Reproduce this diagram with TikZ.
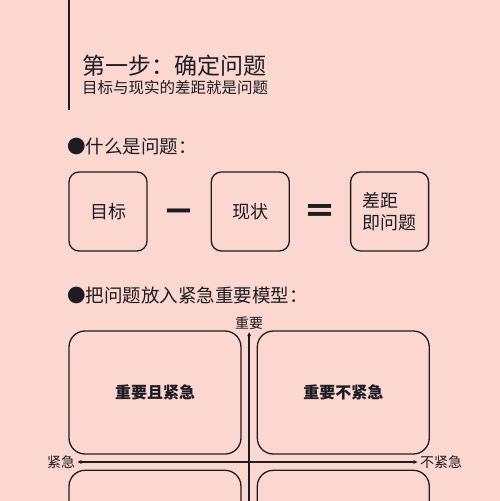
\documentclass[tikz,border=0pt]{standalone}
\usepackage{fontspec}
\setmainfont{Noto Sans CJK SC}
\usetikzlibrary{arrows.meta, positioning, calc}
\definecolor{bgpink}{RGB}{251, 215, 208}
\definecolor{inkdark}{RGB}{28, 28, 34}
\tikzstyle{eqbox}     = [rectangle, rounded corners=10pt, minimum width=78pt, minimum height=79pt,
                         text centered, draw=inkdark, line width=1.3pt, font=\fontsize{18}{22}\selectfont]
\tikzstyle{quad}      = [rectangle, rounded corners=16pt, minimum width=172pt, minimum height=123pt,
                         text centered, draw=inkdark, line width=1.3pt, font=\fontsize{16}{20}\selectfont\bfseries]
\tikzstyle{heading}   = [anchor=west, inner sep=0pt, text=inkdark]
\tikzstyle{opsign}    = [font=\fontsize{33}{33}\selectfont\bfseries, text=inkdark]
\tikzstyle{axislabel} = [font=\fontsize{14}{16}\selectfont, text=inkdark, inner sep=2.5pt]
\tikzstyle{axisline}  = [line width=1.5pt, draw=inkdark]

\begin{document}
\begin{tikzpicture}[x=1pt, y=-1pt, every node/.style={text=inkdark}]
  \fill[bgpink] (0,0) rectangle (500,501);
  \useasboundingbox (0,0) rectangle (500,501);
  \clip (0,0) rectangle (500,501);

  % Title block
  \draw[inkdark, line width=2pt] (69,0) -- (69,110);
  \node (title) [heading, font=\fontsize{23}{26}\selectfont] at (82,66) {第一步：确定问题};
  \node (subtitle) [heading, font=\fontsize{15.5}{18}\selectfont] at (82,88) {目标与现实的差距就是问题};

  % What is a problem
  \node (whathead) [heading, font=\fontsize{18.5}{22}\selectfont] at (67,147) {●什么是问题：};
  \node (goal) [eqbox] at (108,211.5) {目标};
  \node (status) [eqbox, right=63pt of goal] {现状};
  \node (gap) [eqbox, right=60pt of status, align=left] {差距\\即问题};
  \node (minus) [opsign, yshift=-5pt] at ($(goal.east)!0.5!(status.west)$) {－};
  \node (equal) [opsign, yshift=-2pt] at ($(status.east)!0.5!(gap.west)$) {＝};

  % Urgent / important model
  \node (modelhead) [heading, font=\fontsize{18.5}{22}\selectfont] at (67,295) {●把问题放入紧急重要模型：};
  \node (qA) [quad] at (155,392.5) {重要且紧急};
  \node (qB) [quad, right=15pt of qA] {重要不紧急};
  \node (qC) [quad, below=15pt of qA] {};
  \node (qD) [quad, below=15pt of qB] {};

  \coordinate (hub) at ($(qA.south east)!0.5!(qD.north west)$);
  \coordinate (axisend) at ($(hub)+(0,60)$);
  \node (important) [axislabel] at ($(hub)+(0,-139)$) {重要};
  \node (urgent) [axislabel] at (61,462) {紧急};
  \node (noturgent) [axislabel] at (441,462) {不紧急};

  \draw [axisline, {Stealth[length=4pt, width=4pt]}-{Stealth[length=4pt, width=4pt]}] (urgent) -- (noturgent);
  \draw [axisline, -{Stealth[length=4pt, width=4pt]}] (axisend) -- (important);
\end{tikzpicture}
\end{document}
